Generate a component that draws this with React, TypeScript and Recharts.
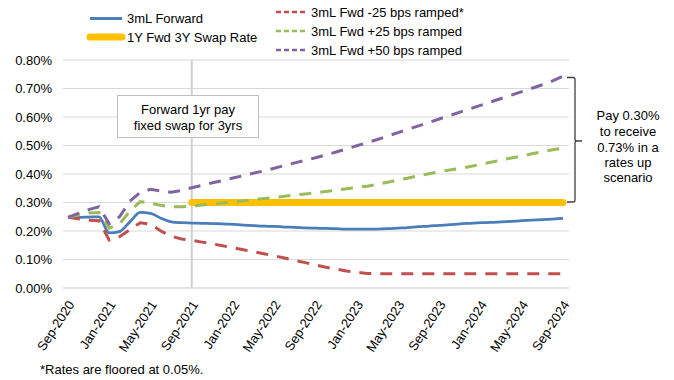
import { LineChart, Line, XAxis, YAxis, CartesianGrid, ReferenceLine } from 'recharts'

const MONTHS = [
  'Sep-2020', 'Oct-2020', 'Nov-2020', 'Dec-2020',
  'Jan-2021', 'Feb-2021', 'Mar-2021', 'Apr-2021', 'May-2021', 'Jun-2021', 'Jul-2021', 'Aug-2021',
  'Sep-2021', 'Oct-2021', 'Nov-2021', 'Dec-2021',
  'Jan-2022', 'Feb-2022', 'Mar-2022', 'Apr-2022', 'May-2022', 'Jun-2022', 'Jul-2022', 'Aug-2022',
  'Sep-2022', 'Oct-2022', 'Nov-2022', 'Dec-2022',
  'Jan-2023', 'Feb-2023', 'Mar-2023', 'Apr-2023', 'May-2023', 'Jun-2023', 'Jul-2023', 'Aug-2023',
  'Sep-2023', 'Oct-2023', 'Nov-2023', 'Dec-2023',
  'Jan-2024', 'Feb-2024', 'Mar-2024', 'Apr-2024', 'May-2024', 'Jun-2024', 'Jul-2024', 'Aug-2024',
  'Sep-2024',
]

// 3mL Forward
const FORWARD = [
  0.248, 0.248, 0.249, 0.250, 0.193, 0.198, 0.232, 0.265, 0.262, 0.245, 0.232, 0.229, 0.228,
  0.227, 0.226, 0.225, 0.223, 0.221, 0.219, 0.217, 0.216, 0.214, 0.213, 0.211, 0.210, 0.209, 0.208, 0.207, 0.207,
  0.207, 0.207, 0.208, 0.210, 0.212, 0.215, 0.217, 0.220, 0.222, 0.225, 0.227, 0.229, 0.230, 0.232, 0.234, 0.236,
  0.238, 0.240, 0.242, 0.244,
]

// 3mL Fwd -25 bps ramped (floored at 0.05)
const DOWN_25 = [
  0.248, 0.243, 0.238, 0.236, 0.168, 0.180, 0.205, 0.229, 0.224, 0.200, 0.182, 0.172, 0.167,
  0.161, 0.155, 0.148, 0.141, 0.134, 0.127, 0.120, 0.113, 0.105, 0.097, 0.089, 0.081, 0.073, 0.066, 0.060, 0.055,
  0.051, 0.05, 0.05, 0.05, 0.05, 0.05, 0.05, 0.05, 0.05, 0.05, 0.05, 0.05, 0.05, 0.05, 0.05, 0.05,
  0.05, 0.05, 0.05, 0.05,
]

// 3mL Fwd +25 bps ramped
const UP_25 = [
  0.248, 0.256, 0.263, 0.265, 0.210, 0.225, 0.270, 0.303, 0.298, 0.290, 0.285, 0.285, 0.288,
  0.291, 0.295, 0.298, 0.302, 0.306, 0.310, 0.314, 0.318, 0.322, 0.326, 0.330, 0.334, 0.339, 0.343, 0.348, 0.353,
  0.357, 0.364, 0.371, 0.379, 0.386, 0.394, 0.401, 0.408, 0.414, 0.420, 0.426, 0.434, 0.441, 0.449, 0.456, 0.463,
  0.471, 0.478, 0.485, 0.491,
]

// 3mL Fwd +50 bps ramped
const UP_50 = [
  0.248, 0.262, 0.275, 0.285, 0.225, 0.250, 0.305, 0.335, 0.346, 0.340, 0.336, 0.342, 0.352,
  0.360, 0.369, 0.377, 0.386, 0.394, 0.403, 0.411, 0.420, 0.430, 0.439, 0.448, 0.457, 0.467, 0.477, 0.488, 0.499,
  0.510, 0.521, 0.533, 0.545, 0.557, 0.569, 0.581, 0.593, 0.605, 0.617, 0.629, 0.641, 0.653, 0.665, 0.677, 0.689,
  0.701, 0.713, 0.727, 0.743,
]

// 1Y Fwd 3Y Swap Rate, starts Sep-2021
const SWAP = [
  null, null, null, null, null, null, null, null, null, null, null, null, 0.30,
  0.30, 0.30, 0.30, 0.30, 0.30, 0.30, 0.30, 0.30, 0.30, 0.30, 0.30, 0.30, 0.30, 0.30, 0.30, 0.30,
  0.30, 0.30, 0.30, 0.30, 0.30, 0.30, 0.30, 0.30, 0.30, 0.30, 0.30, 0.30, 0.30, 0.30, 0.30, 0.30,
  0.30, 0.30, 0.30, 0.30,
]

const Y_TICKS = [0, 0.1, 0.2, 0.3, 0.4, 0.5, 0.6, 0.7, 0.8]

const BLUE = '#4a7ebb'
const RED = '#c0504d'
const GREEN = '#9bbb59'
const PURPLE = '#8064a2'
const YELLOW = '#ffc000'
const FONT = '"Liberation Sans", Arial, sans-serif'

const data = MONTHS.map((m, i) => ({
  month: m,
  fwd: FORWARD[i],
  down25: DOWN_25[i],
  up25: UP_25[i],
  up50: UP_50[i],
  swap: SWAP[i],
}))

const XTick = ({ x, y, payload }: any) => (
  <g transform={`translate(${x + 3},${y + 6})`}>
    <text transform="rotate(-57)" textAnchor="end" dy="0.35em" fontSize={13} fill="#000" fontFamily={FONT}>
      {payload.value}
    </text>
  </g>
)

const LegendItem = ({ x, y, color, label, dashed, thick }: any) => (
  <g>
    <line
      x1={x} y1={y} x2={x + 32} y2={y}
      stroke={color}
      strokeWidth={thick ? 7 : dashed ? 2.5 : 3}
      strokeDasharray={dashed ? '5 3' : undefined}
      strokeLinecap={thick ? 'round' : 'butt'}
    />
    <text x={x + (dashed ? 35 : 37)} y={y + 4.5} fontSize={13} fill="#000">{label}</text>
  </g>
)

export default function App() {
  return (
    <div style={{ position: 'absolute', left: 0, top: 0, width: 674, height: 380, background: '#fff', fontFamily: FONT }}>
      <LineChart width={674} height={380} data={data} margin={{ top: 60, right: 105, bottom: 0, left: 0 }}>
        <CartesianGrid vertical={false} stroke="#d9d9d9" />
        <XAxis
          dataKey="month"
          interval={3}
          height={92}
          tick={<XTick />}
          tickLine={false}
          axisLine={{ stroke: '#d9d9d9' }}
          padding={{ left: 5, right: 6 }}
        />
        <YAxis
          width={63}
          domain={[0, 0.8]}
          ticks={Y_TICKS}
          tickFormatter={(v: number) => `${v.toFixed(2)}%`}
          tick={{ fontSize: 13, fill: '#000', fontFamily: FONT }}
          tickLine={false}
          axisLine={false}
          tickMargin={5}
        />
        <ReferenceLine x="Sep-2021" stroke="#d0d0d0" strokeWidth={2} />
        <Line dataKey="swap" stroke={YELLOW} strokeWidth={7} strokeLinecap="round" dot={false} isAnimationActive={false} />
        <Line type="monotone" dataKey="fwd" stroke={BLUE} strokeWidth={2.75} dot={false} isAnimationActive={false} />
        <Line dataKey="down25" stroke={RED} strokeWidth={3} strokeDasharray="12 9" dot={false} isAnimationActive={false} />
        <Line dataKey="up25" stroke={GREEN} strokeWidth={3} strokeDasharray="12 9" dot={false} isAnimationActive={false} />
        <Line dataKey="up50" stroke={PURPLE} strokeWidth={3} strokeDasharray="12 9" dot={false} isAnimationActive={false} />
      </LineChart>

      <svg width={674} height={380} style={{ position: 'absolute', left: 0, top: 0, pointerEvents: 'none' }} fontFamily={FONT}>
        <LegendItem x={90} y={18.5} color={BLUE} label="3mL Forward" />
        <LegendItem x={90} y={37} color={YELLOW} label="1Y Fwd 3Y Swap Rate" thick />
        <LegendItem x={276} y={12} color={RED} label="3mL Fwd -25 bps ramped*" dashed />
        <LegendItem x={276} y={31} color={GREEN} label="3mL Fwd +25 bps ramped" dashed />
        <LegendItem x={276} y={50} color={PURPLE} label="3mL Fwd +50 bps ramped" dashed />

        <rect x={117.5} y={95.5} width={141} height={42} fill="#fff" stroke="#bfbfbf" strokeWidth={1} />
        <text x={188} y={113.5} textAnchor="middle" fontSize={13} fill="#000">Forward 1yr pay</text>
        <text x={188} y={130} textAnchor="middle" fontSize={13} fill="#000">fixed swap for 3yrs</text>

        <path
          d="M567,77.5 L573,77.5 Q575,77.5 575,79.5 L575,139 Q575,141 577,141 L582,141 M577,141 Q575,141 575,143 L575,200 Q575,202 573,202 L567,202"
          fill="none" stroke="#404040" strokeWidth={1.3}
        />
        <text textAnchor="middle" fontSize={13} fill="#000">
          <tspan x={628} y={120}>Pay 0.30%</tspan>
          <tspan x={628} y={136}>to receive</tspan>
          <tspan x={628} y={152}>0.73% in a</tspan>
          <tspan x={628} y={167}>rates up</tspan>
          <tspan x={628} y={182}>scenario</tspan>
        </text>

        <text x={40} y={374} fontSize={13} fill="#000">
          *Rates are floored at 0.05%.
        </text>
      </svg>
    </div>
  )
}
